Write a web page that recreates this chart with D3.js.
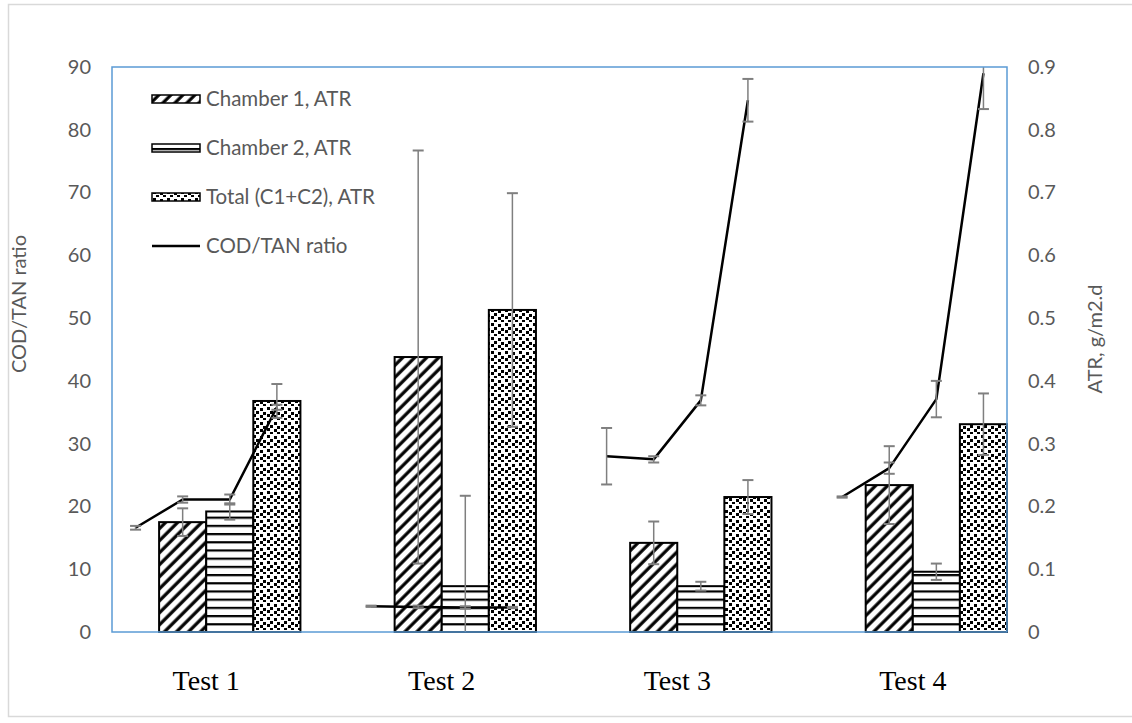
<!DOCTYPE html>
<html>
<head>
<meta charset="utf-8">
<script src="https://cdn.jsdelivr.net/npm/d3@7"></script>
<style>
  body { margin: 0; background: #fff; }
  svg { display: block; }
</style>
</head>
<body>
<svg width="1132" height="723"></svg>
<script>
// data
var tests = ["Test 1", "Test 2", "Test 3", "Test 4"];
var seriesNames = ["Chamber 1, ATR", "Chamber 2, ATR", "Total (C1+C2), ATR"];
var lineName = "COD/TAN ratio";

var chamber1 = [0.175, 0.438, 0.142, 0.234];
var chamber1Err = [0.022, 0.329, 0.034, 0.062];
var chamber2 = [0.192, 0.073, 0.073, 0.096];
var chamber2Err = [0.013, 0.144, 0.007, 0.013];
var total = [0.368, 0.513, 0.215, 0.331];
var totalErr = [0.027, 0.186, 0.027, 0.049];

// COD/TAN ratio, four readings per test
var codTan = [
    [16.6, 21.1, 21.1, 35.8],
    [4.1, 4.0, 3.9, 3.9],
    [28.0, 27.5, 36.9, 84.7],
    [21.5, 26.1, 37.1, 89.0]
];
var codTanErr = [
    [0.3, 0.5, 0.8, 0.4],
    [0.1, 0.2, 0.2, 0.1],
    [4.5, 0.5, 0.8, 3.4],
    [0.1, 0.9, 2.9, 5.7]
];

var leftTicks = [0, 10, 20, 30, 40, 50, 60, 70, 80, 90];
var rightTicks = [0, 0.1, 0.2, 0.3, 0.4, 0.5, 0.6, 0.7, 0.8, 0.9];

var svg = d3.select("svg"),
    width = +svg.attr("width"),
    height = +svg.attr("height");

var plot = {left: 112, right: 1007, top: 67, bottom: 632};
var txtColor = "#595959",
    errColor = "#7f7f7f",
    uiFont = "Lato, 'Open Sans', sans-serif";

// each test takes 4 slots + one empty slot between tests
var slotsPerTest = 5;
var x = d3.scaleBand()
    .domain(d3.range(tests.length * slotsPerTest - 1))
    .range([plot.left, plot.right])
    .padding(0);
var bw = x.bandwidth();
function slotCenter(i, k) { return x(i * slotsPerTest + k) + bw / 2; }

var yL = d3.scaleLinear().domain([0, 90]).range([plot.bottom, plot.top]);
var yR = d3.scaleLinear().domain([0, 0.9]).range([plot.bottom, plot.top]);

// outer chart frame
svg.append("rect")
    .attr("x", 8.5).attr("y", 4.5)
    .attr("width", 1130).attr("height", 712)
    .attr("fill", "none")
    .attr("stroke", "#d9d9d9")
    .attr("stroke-width", 1.5);

// patterns
var defs = svg.append("defs");

var pDiag = defs.append("pattern")
    .attr("id", "pDiag")
    .attr("patternUnits", "userSpaceOnUse")
    .attr("width", 8.5).attr("height", 8.5)
    .attr("patternTransform", "rotate(45)");
pDiag.append("rect").attr("width", 8.5).attr("height", 8.5).attr("fill", "#fff");
pDiag.append("line")
    .attr("x1", 2).attr("x2", 2).attr("y1", 0).attr("y2", 8.5)
    .attr("stroke", "#000").attr("stroke-width", 3.2);

var pHor = defs.append("pattern")
    .attr("id", "pHor")
    .attr("patternUnits", "userSpaceOnUse")
    .attr("width", 10).attr("height", 8.2);
pHor.append("rect").attr("width", 10).attr("height", 8.2).attr("fill", "#fff");
pHor.append("rect").attr("y", 0).attr("width", 10).attr("height", 2.2).attr("fill", "#000");

var pDots = defs.append("pattern")
    .attr("id", "pDots")
    .attr("patternUnits", "userSpaceOnUse")
    .attr("width", 14).attr("height", 14);
pDots.append("rect").attr("width", 14).attr("height", 14).attr("fill", "#fff");
[[1, 1], [8, 2], [4, 5], [11, 6], [1, 8], [8, 9], [4, 12], [11, 12]].forEach(function (p) {
    pDots.append("rect")
        .attr("x", p[0]).attr("y", p[1])
        .attr("width", 3).attr("height", 3)
        .attr("fill", "#000");
});

var fills = ["url(#pDiag)", "url(#pHor)", "url(#pDots)"];

// clip for things that run past the plot frame
defs.append("clipPath").attr("id", "plotClip")
    .append("rect")
    .attr("x", plot.left).attr("y", plot.top)
    .attr("width", plot.right - plot.left)
    .attr("height", plot.bottom - plot.top);

// bars
var barSeries = [
    {vals: chamber1, errs: chamber1Err},
    {vals: chamber2, errs: chamber2Err},
    {vals: total, errs: totalErr}
];
var barData = [];
barSeries.forEach(function (s, si) {
    s.vals.forEach(function (v, i) {
        barData.push({s: si, i: i, v: v, e: s.errs[i]});
    });
});

var barG = svg.append("g").attr("class", "bars");
barG.selectAll("rect")
    .data(barData)
    .enter().append("rect")
    .attr("x", function (d) { return x(d.i * slotsPerTest + d.s + 1); })
    .attr("y", function (d) { return yR(d.v); })
    .attr("width", bw)
    .attr("height", function (d) { return yR(0) - yR(d.v); })
    .attr("fill", function (d) { return fills[d.s]; })
    .attr("stroke", "#000")
    .attr("stroke-width", 2);

// COD/TAN line, one segment per test
var line = d3.line()
    .x(function (d) { return d.x; })
    .y(function (d) { return yL(d.v); });

var linePts = codTan.map(function (arr, i) {
    return arr.map(function (v, k) {
        return {x: slotCenter(i, k), v: v, e: codTanErr[i][k]};
    });
});

svg.append("g").attr("class", "ratio")
    .attr("clip-path", "url(#plotClip)")
    .selectAll("path")
    .data(linePts)
    .enter().append("path")
    .attr("d", line)
    .attr("fill", "none")
    .attr("stroke", "#000")
    .attr("stroke-width", 2.5)
    .attr("stroke-linejoin", "round");

// error bars
var errData = barData.map(function (d) {
    return {x: slotCenter(d.i, d.s + 1), lo: yR(d.v - d.e), hi: yR(d.v + d.e)};
});
linePts.forEach(function (arr) {
    arr.forEach(function (p) {
        errData.push({x: p.x, lo: yL(p.v - p.e), hi: yL(p.v + p.e)});
    });
});

var errG = svg.append("g").attr("class", "errors")
    .attr("clip-path", "url(#plotClip)")
    .attr("stroke", errColor);
var eb = errG.selectAll("g")
    .data(errData)
    .enter().append("g");
eb.append("line")
    .attr("x1", function (d) { return d.x; })
    .attr("x2", function (d) { return d.x; })
    .attr("y1", function (d) { return d.lo; })
    .attr("y2", function (d) { return d.hi; })
    .attr("stroke-width", 1.5);
eb.append("line")
    .attr("x1", function (d) { return d.x - 5.5; })
    .attr("x2", function (d) { return d.x + 5.5; })
    .attr("y1", function (d) { return d.hi; })
    .attr("y2", function (d) { return d.hi; })
    .attr("stroke-width", 2);
eb.append("line")
    .attr("x1", function (d) { return d.x - 5.5; })
    .attr("x2", function (d) { return d.x + 5.5; })
    .attr("y1", function (d) { return d.lo; })
    .attr("y2", function (d) { return d.lo; })
    .attr("stroke-width", 2);

// plot frame
svg.append("rect")
    .attr("x", plot.left).attr("y", plot.top)
    .attr("width", plot.right - plot.left)
    .attr("height", plot.bottom - plot.top)
    .attr("fill", "none")
    .attr("stroke", "#5b9bd5")
    .attr("stroke-width", 1.5);

// axes
var axL = svg.append("g")
    .attr("transform", "translate(" + plot.left + ",0)")
    .call(d3.axisLeft(yL).tickValues(leftTicks).tickSize(0).tickPadding(21));
var axR = svg.append("g")
    .attr("transform", "translate(" + plot.right + ",0)")
    .call(d3.axisRight(yR).tickValues(rightTicks).tickSize(0).tickPadding(21)
        .tickFormat(function (d) { return d === 0 ? "0" : d3.format(".1f")(d); }));
[axL, axR].forEach(function (ax) {
    ax.select(".domain").remove();
    ax.selectAll("text")
        .attr("fill", txtColor)
        .style("font-family", uiFont)
        .style("font-size", "20px");
});

// axis titles (placed where the original has them, not centred)
svg.append("text")
    .attr("transform", "translate(26,304) rotate(-90)")
    .attr("text-anchor", "middle")
    .attr("fill", txtColor)
    .style("font-family", uiFont)
    .style("font-size", "20px")
    .text("COD/TAN ratio");
svg.append("text")
    .attr("transform", "translate(1102,339) rotate(-90)")
    .attr("text-anchor", "middle")
    .attr("fill", txtColor)
    .style("font-family", uiFont)
    .style("font-size", "20px")
    .text("ATR, g/m2.d");

// test labels under the groups
svg.append("g").selectAll("text")
    .data(tests)
    .enter().append("text")
    .attr("x", function (d, i) { return (slotCenter(i, 1) + slotCenter(i, 2)) / 2; })
    .attr("y", 690)
    .attr("text-anchor", "middle")
    .attr("fill", "#000")
    .style("font-family", "'Liberation Serif', 'Times New Roman', serif")
    .style("font-size", "28px")
    .text(function (d) { return d; });

// legend
var legendItems = seriesNames.map(function (n, i) { return {name: n, fill: fills[i]}; })
    .concat([{name: lineName, fill: null}]);
var lg = svg.append("g").attr("class", "legend")
    .selectAll("g")
    .data(legendItems)
    .enter().append("g")
    .attr("transform", function (d, i) { return "translate(152," + (99 + i * 49) + ")"; });
lg.filter(function (d) { return d.fill; })
    .append("rect")
    .attr("x", 0).attr("y", -4)
    .attr("width", 48).attr("height", 8)
    .attr("fill", function (d) { return d.fill; })
    .attr("stroke", "#000")
    .attr("stroke-width", 1.5);
lg.filter(function (d) { return !d.fill; })
    .append("line")
    .attr("x1", 0).attr("x2", 48)
    .attr("stroke", "#000")
    .attr("stroke-width", 2.5);
lg.append("text")
    .attr("x", 54)
    .attr("dy", "0.35em")
    .attr("fill", txtColor)
    .style("font-family", uiFont)
    .style("font-size", "20.5px")
    .text(function (d) { return d.name; });
</script>
</body>
</html>
